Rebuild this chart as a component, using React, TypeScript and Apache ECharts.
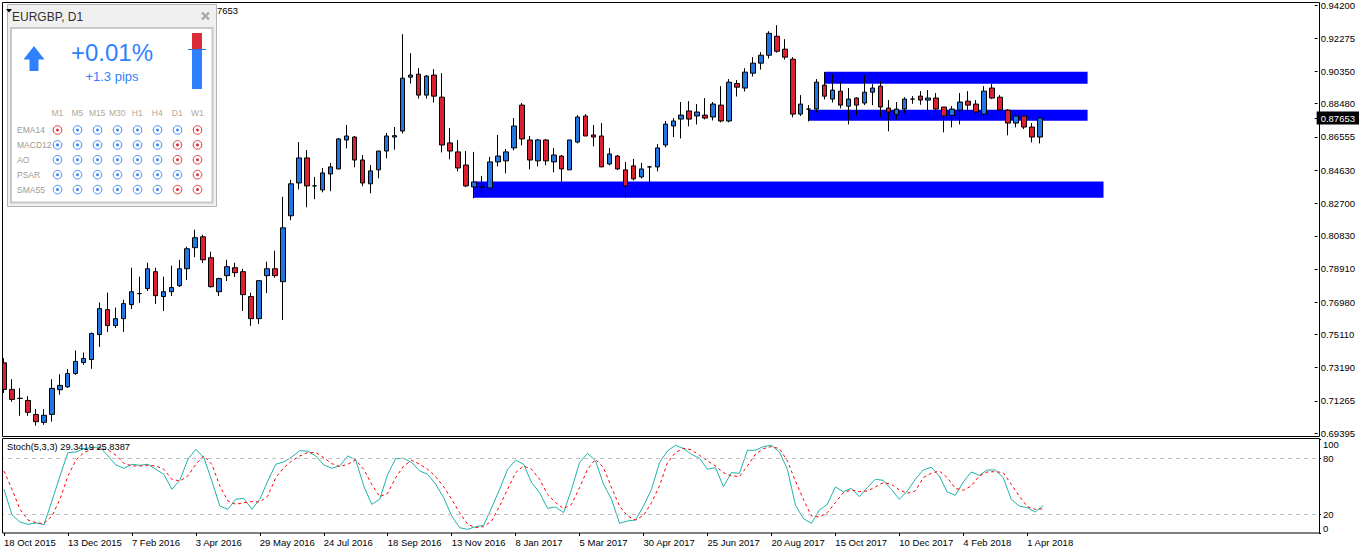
import React, { useEffect, useRef } from "react";
import * as echarts from "echarts";

// Weekly EURGBP prices, in units of 0.0001
const opens = [7347,7193,7141,7129,7048,7002,7048,7191,7208,7285,
7349,7366,7511,7655,7563,7603,7684,7748,7777,7875,
7731,7759,7794,7892,8014,8077,7956,7759,7852,7898,
7875,7731,7603,7852,7892,7817,8199,8389,8534,8372,
8349,8441,8470,8638,8655,8522,8384,8465,8574,8655,
8690,9002,9019,8898,9014,8886,8621,8569,8493,8366,
8366,8360,8511,8517,8592,8840,8638,8517,8638,8511,
8545,8465,8626,8777,8667,8661,8499,8545,8465,8488,
8424,8482,8482,8609,8719,8759,8806,8777,8782,8771,
8840,8748,8965,8939,9025,9083,9129,9239,9164,9106,
8788,8817,8817,8956,8875,8921,8834,8881,8852,8915,
8950,8823,8786,8817,8875,8892,8869,8881,8829,8780,
8811,8863,8846,8788,8939,8886,8811,8736,8777,8713,8655];
const closes = [7193,7135,7141,7060,7006,7043,7199,7216,7285,7355,
7372,7517,7661,7563,7603,7690,7759,7748,7892,7736,
7759,7783,7892,8008,8072,7944,7788,7835,7904,7869,
7742,7603,7823,7892,7852,8129,8384,8534,8372,8372,
8447,8482,8644,8661,8522,8389,8459,8574,8661,8663,
8996,9014,8898,9008,8892,8609,8574,8476,8372,8395,
8366,8511,8545,8569,8719,8644,8522,8638,8517,8551,
8470,8638,8771,8661,8655,8482,8557,8470,8372,8413,
8470,8482,8592,8730,8748,8782,8759,8800,8765,8846,
8748,8973,8944,9031,9083,9129,9256,9152,9118,8788,
8846,8817,8973,8892,8927,8840,8875,8840,8915,8939,
8829,8800,8817,8875,8875,8869,8881,8817,8777,8817,
8858,8840,8800,8921,8881,8811,8736,8777,8713,8655,8765.3];
const lows = [7172,7121,7040,7040,6983,6988,7006,7162,7202,7277,
7335,7312,7439,7526,7549,7526,7659,7694,7763,7688,
7647,7734,7786,7826,7959,7925,7783,7734,7821,7844,
7647,7561,7572,7751,7840,7595,8173,8352,8248,8295,
8335,8341,8470,8589,8480,8370,8329,8416,8532,8582,
8676,8965,8878,8878,8855,8566,8526,8456,8364,8300,
8329,8352,8485,8445,8578,8607,8468,8485,8491,8451,
8397,8465,8618,8661,8601,8482,8491,8465,8306,8404,
8416,8381,8456,8595,8655,8647,8717,8728,8757,8751,
8740,8740,8890,8919,9006,9046,9110,9144,9104,8769,
8777,8745,8796,8873,8855,8821,8728,8782,8840,8840,
8771,8688,8755,8794,8848,8842,8806,8797,8682,8711,
8728,8811,8784,8769,8875,8806,8665,8711,8701,8624,8618];
const highs = [7374,7252,7200,7154,7079,7079,7252,7281,7310,7418,
7407,7522,7696,7754,7667,7713,7898,7846,7927,7898,
7846,7910,7944,8020,8118,8089,7991,7840,7944,7927,
7892,7754,7823,7933,7996,8309,8407,8626,8580,8424,
8476,8505,8650,8725,8661,8551,8493,8574,8678,8713,
9251,9141,9054,9014,9048,9025,8707,8638,8574,8569,
8430,8540,8667,8586,8765,8852,8661,8644,8644,8592,
8551,8638,8782,8788,8725,8736,8592,8551,8511,8528,
8505,8488,8615,8748,8765,8858,8863,8846,8881,8858,
8950,8991,8985,9054,9118,9147,9268,9303,9222,9118,
8898,8840,8991,9031,9019,8973,8939,8886,9014,8962,
8979,8869,8858,8886,8892,8921,8927,8910,8829,8834,
8910,8921,8869,8950,8962,8898,8817,8794,8782,8736,8771];

const stochMain = [46.8,19.3,11.8,9.3,10.7,8.9,34.3,61.1,86.1,86.8,
90.4,91.4,92.1,82.5,72.9,69.3,73.6,72.5,73.6,68.2,
62.9,46.8,56.4,78.9,89.6,80.7,55.7,28.9,25.4,36.1,
37.1,25.4,36.1,55.7,73.6,76.1,81.4,88.2,87.5,82.5,
72.9,69.3,71.8,82.5,78.2,50.4,30.7,36.1,62.9,79.6,
80.0,75.4,66.4,62.9,52.2,37.9,18.2,5.7,3.9,6.8,
8.2,27.1,46.8,68.2,77.9,73.6,53.9,43.2,26.4,27.9,
21.8,46.8,75.4,85.4,77.2,52.2,36.1,10.4,12.9,13.9,
28.9,46.8,75.4,87.9,93.9,90.4,84.3,80.0,68.2,70.0,
49.6,64.6,63.9,88.6,88.6,92.5,93.9,86.8,68.2,30.0,
15.4,10.4,24.6,30.7,49.3,44.3,47.9,38.9,48.6,57.5,
56.4,46.8,36.1,45.0,57.5,67.5,70.4,61.1,43.9,40.4,
54.6,65.3,61.8,67.5,67.5,59.3,36.1,28.9,27.1,22.5,29.34];
const stochSignal = [66.4,46.8,25.4,13.9,11.1,10.0,18.2,36.1,61.1,78.2,
86.1,89.6,90.4,88.9,83.2,74.6,71.8,71.8,72.5,71.8,
68.2,57.5,55.7,61.1,73.6,82.5,73.6,50.4,34.3,30.7,
32.5,33.6,33.2,39.6,59.3,70.0,77.2,82.5,86.1,86.1,
80.7,74.3,71.1,73.6,78.2,68.2,52.2,38.9,42.5,59.3,
71.8,77.9,73.6,68.2,60.4,49.6,36.1,21.8,9.3,5.7,
6.8,12.9,28.9,46.8,64.6,71.8,68.2,57.5,41.4,32.5,
26.1,30.7,48.6,68.2,78.9,70.0,48.6,28.9,18.2,13.9,
18.9,32.5,50.4,75.4,86.1,90.7,88.9,83.2,77.2,71.8,
64.6,61.1,60.4,71.8,84.3,90.4,92.5,90.4,77.2,55.7,
36.1,18.2,17.1,21.8,32.5,43.2,46.1,44.3,45.0,49.3,
53.9,52.2,46.1,42.5,45.0,59.3,63.9,66.4,59.3,47.9,
45.7,50.4,61.1,65.3,65.7,64.6,52.2,39.6,28.2,25.4,25.84];

const dateLabels = ["18 Oct 2015","13 Dec 2015","7 Feb 2016","3 Apr 2016","29 May 2016","24 Jul 2016","18 Sep 2016","13 Nov 2016","8 Jan 2017","5 Mar 2017","30 Apr 2017","25 Jun 2017","20 Aug 2017","15 Oct 2017","10 Dec 2017","4 Feb 2018","1 Apr 2018"];
const priceTicks = [0.942,0.92275,0.9035,0.8848,0.87653,0.86555,0.8463,0.827,0.8083,0.7891,0.7698,0.7511,0.7319,0.71265,0.69395];
const currentPrice = 0.87653;
const stochTicks = [0,20,80,100];
// [first bar index, last bar index, upper price, lower price]
const zones = [
  [59,138,0.83970,0.83040],
  [103,136,0.90327,0.89634],
  [101,136,0.88131,0.87495],
];

const timeframes = ["M1","M5","M15","M30","H1","H4","D1","W1"];
const indicators = ["EMA14","MACD12","AO","PSAR","SMA55"];
const signalStates = ["rbbbbbbr","bbbbbbrr","bbbbbbrr","bbbbbbbr","bbbbbbrr"];

const FONT = '"Liberation Sans", Arial, sans-serif';
const UP = "#2176e2";
const DOWN = "#dc2030";
const WBLUE = "#2f80ff";
const WRED = "#d92c38";
const BAND_COUNT = 165;

function widget(): any[] {
  const items: any[] = [
    { type: "rect", z: 20, shape: { x: 7.5, y: 4.5, width: 209, height: 202 }, style: { fill: "#f0f0f0", stroke: "#b4b4b4", lineWidth: 1 } },
    { type: "rect", z: 21, shape: { x: 11, y: 28, width: 201.5, height: 174.5 }, style: { fill: "#fff", stroke: "#c8c8c8", lineWidth: 2 } },
    { type: "polygon", z: 22, shape: { points: [[6,9],[12,9],[9,12.5]] }, style: { fill: "#000" } },
    { type: "text", z: 22, style: { x: 12, y: 17, text: "EURGBP, D1", fill: "#303030", font: `12px ${FONT}`, verticalAlign: "middle" } },
    { type: "line", z: 22, shape: { x1: 202, y1: 12.5, x2: 209, y2: 19.5 }, style: { stroke: "#a8a8a8", lineWidth: 2.4 } },
    { type: "line", z: 22, shape: { x1: 209, y1: 12.5, x2: 202, y2: 19.5 }, style: { stroke: "#a8a8a8", lineWidth: 2.4 } },
    { type: "polygon", z: 22, shape: { points: [[34,46],[44.5,59.5],[38.5,59.5],[38.5,71],[29.5,71],[29.5,59.5],[23.5,59.5]] }, style: { fill: WBLUE } },
    { type: "text", z: 22, style: { x: 112, y: 52, text: "+0.01%", fill: WBLUE, font: `24px ${FONT}`, align: "center", verticalAlign: "middle" } },
    { type: "text", z: 22, style: { x: 112, y: 76.5, text: "+1.3 pips", fill: WBLUE, font: `13px ${FONT}`, align: "center", verticalAlign: "middle" } },
    { type: "rect", z: 22, shape: { x: 192, y: 33, width: 10, height: 16 }, style: { fill: WRED } },
    { type: "rect", z: 22, shape: { x: 192, y: 49, width: 10, height: 40 }, style: { fill: WBLUE } },
    { type: "line", z: 23, shape: { x1: 188, y1: 49.5, x2: 206, y2: 49.5 }, style: { stroke: "#2a70d8", lineWidth: 1 } },
  ];
  timeframes.forEach((t, c) => {
    items.push({ type: "text", z: 22, style: { x: 57.3 + 20 * c, y: 113, text: t, fill: "#b5a898", font: `8.5px ${FONT}`, align: "center", verticalAlign: "middle" } });
  });
  indicators.forEach((name, r) => {
    const y = 130 + 14.9 * r;
    items.push({ type: "text", z: 22, style: { x: 17, y, text: name, fill: "#a09a94", font: `8.5px ${FONT}`, verticalAlign: "middle" } });
    signalStates[r].split("").forEach((s, c) => {
      const col = s === "r" ? "#e0323c" : "#3e88f8";
      const cx = 57.5 + 20 * c;
      items.push({ type: "circle", z: 22, shape: { cx, cy: y, r: 4.3 }, style: { fill: "#fff", stroke: col, lineWidth: 1 } });
      items.push({ type: "circle", z: 23, shape: { cx, cy: y, r: 1.5 }, style: { fill: col } });
    });
  });
  return items;
}

export default function App() {
  const ref = useRef<HTMLDivElement>(null);
  useEffect(() => {
    const chart = echarts.init(ref.current!, undefined, { renderer: "svg" });
    const categories = Array.from({ length: BAND_COUNT }, (_, i) =>
      i % 8 === 0 && dateLabels[i / 8] ? dateLabels[i / 8] : "w" + i
    );
    const showIdx = (i: number) => i % 8 === 0 && i / 8 < dateLabels.length;
    const candles = opens.map((o, i) => [o / 10000, closes[i] / 10000, lows[i] / 10000, highs[i] / 10000]);
    const priceMin = 0.69288;
    const priceMax = 0.94258;
    chart.setOption({
      animation: false,
      backgroundColor: "#fff",
      textStyle: { fontFamily: FONT },
      grid: [
        { left: -1, right: 43, top: 3, height: 432 },
        { left: -1, right: 43, top: 439.6, height: 93.4 },
      ],
      xAxis: [
        { type: "category", gridIndex: 0, data: categories, show: false, boundaryGap: true },
        {
          type: "category", gridIndex: 1, data: categories, boundaryGap: true,
          axisLine: { show: false },
          axisTick: { show: true, alignWithLabel: true, interval: showIdx, length: 3, lineStyle: { color: "#000" } },
          axisLabel: { interval: showIdx, align: "left", margin: 4, color: "#000", fontSize: 9.5, fontFamily: FONT, hideOverlap: false },
          splitLine: { show: false },
        },
      ],
      yAxis: [
        {
          type: "value", gridIndex: 0, position: "right", min: priceMin, max: priceMax, scale: true,
          splitLine: { show: false }, axisLine: { show: false },
          axisTick: { show: true, length: 3, customValues: priceTicks, lineStyle: { color: "#000" } },
          axisLabel: {
            customValues: priceTicks, margin: 2, color: "#000", fontSize: 9.5, fontFamily: FONT,
            formatter: (v: number) => Math.abs(v - currentPrice) < 1e-7 ? `{cur|${v.toFixed(5)}}` : `{n|${v.toFixed(5)}}`,
            rich: {
              n: { color: "#000", fontSize: 9.5, fontFamily: FONT, padding: [0, 4, 0, 4] },
              cur: { color: "#fff", fontSize: 9.5, fontFamily: FONT, backgroundColor: "#000", padding: [2, 4, 1, 4] },
            },
          },
        },
        {
          type: "value", gridIndex: 1, position: "right", min: 0, max: 100,
          splitLine: { show: false }, axisLine: { show: false },
          axisTick: { show: true, length: 2, customValues: stochTicks, lineStyle: { color: "#000" } },
          axisLabel: {
            customValues: stochTicks, margin: 4, color: "#000", fontSize: 9.5, fontFamily: FONT,
            verticalAlignMinLabel: "bottom", verticalAlignMaxLabel: "top",
          },
        },
      ],
      series: [
        {
          type: "candlestick", xAxisIndex: 0, yAxisIndex: 0, data: candles, barWidth: 5, z: 3,
          itemStyle: { color: UP, color0: DOWN, borderColor: "#000", borderColor0: "#000", borderColorDoji: "#000", borderWidth: 1 },
          markArea: {
            silent: true, z: 1,
            itemStyle: { color: "#0000ff", borderWidth: 0 },
            label: { show: false },
            data: zones.map((z) => [{ coord: [z[0], z[2]] }, { coord: [z[1], z[3]] }]),
          },
        },
        {
          type: "line", xAxisIndex: 1, yAxisIndex: 1, data: stochMain, symbol: "none",
          lineStyle: { color: "#20b2aa", width: 1 },
          markLine: {
            silent: true, symbol: "none", label: { show: false },
            lineStyle: { color: "#c0c0c0", width: 1, type: [4, 4] },
            data: [{ yAxis: 80 }, { yAxis: 20 }],
          },
        },
        {
          type: "line", xAxisIndex: 1, yAxisIndex: 1, data: stochSignal, symbol: "none",
          lineStyle: { color: "#ff0000", width: 1, type: [3, 3] },
        },
      ],
      graphic: [
        { type: "rect", z: 15, shape: { x: 0, y: 0, width: 2, height: 554 }, style: { fill: "#fff" } },
        { type: "rect", z: 16, shape: { x: 2.5, y: 2.5, width: 1317, height: 434 }, style: { fill: "none", stroke: "#000", lineWidth: 1 } },
        { type: "rect", z: 16, shape: { x: 2.5, y: 438.5, width: 1317, height: 94.5 }, style: { fill: "none", stroke: "#000", lineWidth: 1 } },
        { type: "text", z: 16, style: { x: 217, y: 10, text: "7653", fill: "#000", font: `9.5px ${FONT}`, verticalAlign: "middle" } },
        { type: "text", z: 16, style: { x: 7, y: 447, text: "Stoch(5,3,3) 29.3419 25.8387", fill: "#000", font: `9.3px ${FONT}`, verticalAlign: "middle" } },
        ...widget(),
      ],
    });
    return () => chart.dispose();
  }, []);
  return <div ref={ref} style={{ position: "absolute", left: 0, top: 0, width: 1362, height: 554, background: "#fff" }} />;
}
